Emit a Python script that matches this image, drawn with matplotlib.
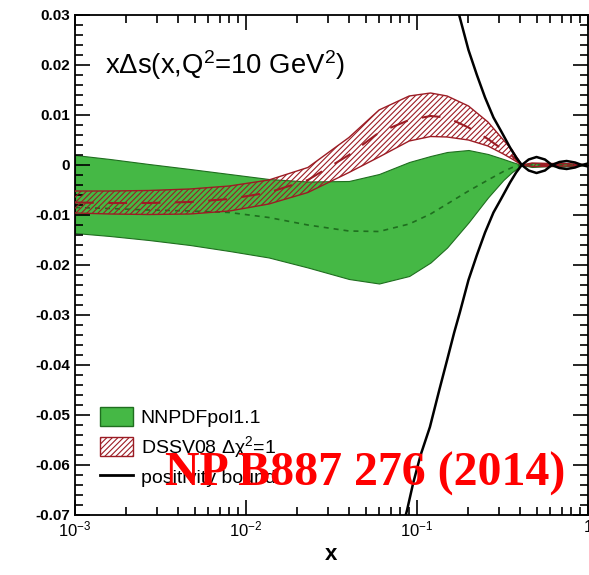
import numpy as np
import matplotlib
matplotlib.use('Agg')
import matplotlib.pyplot as plt
from matplotlib.patches import Patch
from matplotlib.lines import Line2D
from matplotlib.ticker import MultipleLocator, LogLocator, NullFormatter

plt.rcParams['font.family'] = ['Liberation Sans', 'DejaVu Sans']
plt.rcParams['hatch.linewidth'] = 0.8

# x grid
x = [0.001, 0.0016, 0.0027, 0.0047, 0.008, 0.0136, 0.023, 0.04, 0.06, 0.09,
     0.12, 0.15, 0.2, 0.26, 0.32, 0.36, 0.41, 0.47, 0.6, 0.72, 0.84, 1.0]

# NNPDFpol1.1 band
nn_up = [0.002, 0.0012, 0.0002, -0.0008, -0.0018, -0.0028, -0.0033, -0.0032, -0.0018, 0.0006,
         0.0018, 0.0026, 0.003, 0.0022, 0.0012, 0.0006, 0.0, 0.0004, 0.0002, 0.0003, 0.0001, 0.0]
nn_lo = [-0.0136, -0.0142, -0.015, -0.016, -0.0172, -0.0185, -0.0205, -0.0228, -0.0237, -0.0222,
         -0.0195, -0.0165, -0.0115, -0.0065, -0.003, -0.0014, 0.0, -0.0004, -0.0002, -0.0003, -0.0001, 0.0]
nn_mid = [-0.0085, -0.0087, -0.009, -0.0092, -0.0095, -0.0105, -0.012, -0.0132, -0.0133, -0.0118,
          -0.0098, -0.0078, -0.0052, -0.003, -0.0013, -0.0005, 0.0, 0.0, 0.0, 0.0, 0.0, 0.0]

# DSSV08 band
ds_up = [-0.0052, -0.0052, -0.0051, -0.0048, -0.0042, -0.003, -0.0005, 0.0055, 0.011, 0.0138,
         0.0144, 0.0138, 0.0118, 0.0086, 0.005, 0.003, 0.0, 0.0004, 0.0003, 0.0003, 0.0002, 0.0]
ds_lo = [-0.0096, -0.0098, -0.0099, -0.0098, -0.0092, -0.0078, -0.0055, -0.0015, 0.0016, 0.0048,
         0.0057, 0.0056, 0.005, 0.0038, 0.0022, 0.0012, 0.0, -0.0003, -0.0003, -0.0002, -0.0002, 0.0]
ds_mid = [-0.0075, -0.0076, -0.0076, -0.0074, -0.0068, -0.0055, -0.003, 0.002, 0.0065, 0.009,
          0.0098, 0.0095, 0.0075, 0.0052, 0.003, 0.0018, 0.0, 0.0, 0.0, 0.0, 0.0, 0.0]

# positivity bound (+/-)
xb = [0.08, 0.0875, 0.095, 0.105, 0.119, 0.135, 0.15, 0.165, 0.178, 0.2, 0.224, 0.25, 0.28,
      0.31, 0.35, 0.38, 0.41, 0.45, 0.5, 0.56, 0.615, 0.68, 0.75, 0.84, 0.92, 1.0]
bound = [0.074, 0.069, 0.0636, 0.058, 0.0524, 0.045, 0.039, 0.0335, 0.0295, 0.023, 0.018, 0.0135,
         0.0095, 0.0068, 0.0035, 0.0015, 0.0, -0.0011, -0.0016, -0.0011, 0.0, 0.0006, 0.0008,
         0.0005, 0.0, -0.0003]

fig = plt.figure(figsize=(5.89, 5.75), dpi=100)
ax = fig.add_axes([75/589, 1-515/575, (588-75)/589, 500/575])

green = '#45b845'
dgreen = '#1f6e1f'
dred = '#9c1c24'

ax.fill_between(x, nn_lo, nn_up, facecolor=green, edgecolor=dgreen, linewidth=0.8, zorder=1)
ax.plot(x, nn_mid, color=dgreen, ls=(0, (3, 3)), lw=1.2, zorder=2)

ax.fill_between(x, ds_lo, ds_up, facecolor='none', edgecolor=dred, hatch='//////', linewidth=0, zorder=3)
ax.plot(x, ds_up, color=dred, lw=1.0, zorder=4)
ax.plot(x, ds_lo, color=dred, lw=1.0, zorder=4)
ax.plot(x, ds_mid, color=dred, ls=(0, (9, 7)), lw=1.5, zorder=4)

ax.plot(xb, bound, color='black', lw=1.8, zorder=5)
ax.plot(xb, -np.array(bound), color='black', lw=1.8, zorder=5)

ax.set_xscale('log')
ax.set_xlim(1e-3, 1)
ax.set_ylim(-0.07, 0.03)
ax.yaxis.set_minor_locator(MultipleLocator(0.002))
ax.set_yticks(np.arange(-0.07, 0.031, 0.01))
ax.set_yticklabels(['-0.07', '-0.06', '-0.05', '-0.04', '-0.03', '-0.02', '-0.01', '0',
                    '0.01', '0.02', '0.03'], fontweight='bold', fontsize=11)
ax.xaxis.set_minor_locator(LogLocator(base=10, subs=np.arange(2, 10)))
ax.xaxis.set_minor_formatter(NullFormatter())
ax.set_xticks([1e-3, 1e-2, 1e-1, 1])
ax.set_xticklabels([r'$\mathregular{10^{-3}}$', r'$\mathregular{10^{-2}}$',
                    r'$\mathregular{10^{-1}}$', '1'], fontsize=12)
ax.tick_params(which='both', direction='in', top=True, right=True, width=1.2)
ax.tick_params(which='major', length=11)
ax.tick_params(which='minor', length=5.5)
for s in ax.spines.values():
    s.set_linewidth(1.3)

ax.set_xlabel('x', fontsize=16, fontweight='bold', labelpad=3)

fig.text(105/589, 1-65/575, r'x$\mathregular{\Delta}$s(x,Q$\mathregular{^2}$=10 GeV$\mathregular{^2}$)',
         fontsize=19.8, va='center', ha='left')

handles = [Patch(facecolor=green, edgecolor=dgreen),
           Patch(facecolor='white', edgecolor=dred, hatch='//////'),
           Line2D([], [], color='black', lw=2)]
labels = ['NNPDFpol1.1', r'DSSV08 $\mathregular{\Delta\chi^2}$=1', 'positivity bound']
ax.legend(handles, labels, loc='upper left', bbox_to_anchor=(100/589, 1-407/575),
          bbox_transform=fig.transFigure, frameon=False, borderpad=0, borderaxespad=0,
          fontsize=14, handlelength=1.7, handleheight=1.15, labelspacing=0.35, handletextpad=0.4)

fig.text(365/589, 1-474/575, 'NP B887 276 (2014)', color='red', fontsize=34.5, fontweight='bold',
         family='Liberation Serif', ha='center', va='center')

fig.savefig('out.png', dpi=100)
